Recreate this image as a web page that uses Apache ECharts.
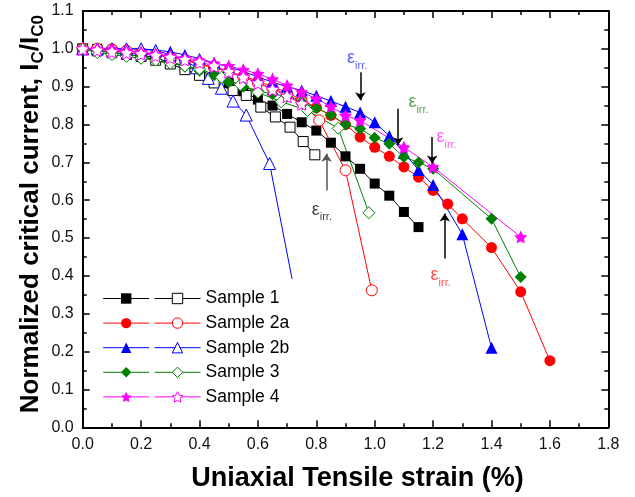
<!DOCTYPE html>
<html>
<head>
<meta charset="utf-8">
<script src="https://cdn.jsdelivr.net/npm/echarts@6/dist/echarts.min.js"></script>
<style>
  html, body { margin: 0; padding: 0; background: #fff; }
  #chart { width: 635px; height: 497px; }
</style>
</head>
<body>
<div id="chart"></div>
<script>
// Normalized critical current Ic/Ic0 versus uniaxial tensile strain (%)
const sampleNames = ['Sample 1', 'Sample 2a', 'Sample 2b', 'Sample 3', 'Sample 4'];
const sampleColors = ['#000000', '#ff0000', '#0000ff', '#008000', '#ff00ff'];

const xTicks = [0, 0.2, 0.4, 0.6, 0.8, 1.0, 1.2, 1.4, 1.6, 1.8];
const yTicks = [0, 0.1, 0.2, 0.3, 0.4, 0.5, 0.6, 0.7, 0.8, 0.9, 1.0, 1.1];

// Sample 1
const s1FilledX = [0, 0.05, 0.1, 0.15, 0.2, 0.25, 0.3, 0.35, 0.4, 0.45, 0.5, 0.55, 0.6, 0.65, 0.7, 0.75, 0.8, 0.85, 0.9, 0.95, 1.0, 1.05, 1.1, 1.15];
const s1FilledY = [1.0, 1.0, 0.995, 0.99, 0.985, 0.975, 0.965, 0.955, 0.94, 0.925, 0.91, 0.888, 0.866, 0.85, 0.828, 0.806, 0.784, 0.752, 0.716, 0.683, 0.644, 0.612, 0.569, 0.529];
const s1OpenX = [0, 0.05, 0.1, 0.15, 0.2, 0.25, 0.3, 0.35, 0.4, 0.45, 0.515, 0.56, 0.61, 0.66, 0.71, 0.755, 0.795];
const s1OpenY = [1.0, 0.995, 0.99, 0.985, 0.98, 0.97, 0.96, 0.945, 0.93, 0.91, 0.89, 0.877, 0.846, 0.82, 0.793, 0.755, 0.72];

// Sample 2a
const s2aFilledX = [0, 0.05, 0.1, 0.15, 0.2, 0.25, 0.3, 0.35, 0.4, 0.45, 0.5, 0.55, 0.6, 0.65, 0.7, 0.75, 0.8, 0.85, 0.9, 0.95, 1.0, 1.05, 1.1, 1.15, 1.2, 1.25, 1.3, 1.4, 1.5, 1.6];
const s2aFilledY = [1.0, 1.0, 1.0, 0.995, 0.99, 0.985, 0.978, 0.97, 0.96, 0.95, 0.94, 0.928, 0.915, 0.9, 0.885, 0.865, 0.845, 0.824, 0.80, 0.767, 0.74, 0.716, 0.688, 0.661, 0.626, 0.59, 0.551, 0.475, 0.358, 0.176];
const s2aOpenX = [0, 0.05, 0.1, 0.15, 0.2, 0.25, 0.3, 0.35, 0.4, 0.45, 0.5, 0.55, 0.6, 0.65, 0.7, 0.75, 0.81, 0.9, 0.99];
const s2aOpenY = [1.0, 1.0, 0.998, 0.995, 0.99, 0.985, 0.978, 0.97, 0.96, 0.95, 0.94, 0.925, 0.91, 0.895, 0.88, 0.86, 0.811, 0.679, 0.362];

// Sample 2b
const s2bFilledX = [0, 0.05, 0.1, 0.15, 0.2, 0.25, 0.3, 0.35, 0.4, 0.45, 0.5, 0.55, 0.6, 0.65, 0.7, 0.75, 0.8, 0.85, 0.9, 0.95, 1.0, 1.05, 1.1, 1.15, 1.2, 1.3, 1.4];
const s2bFilledY = [1.0, 1.0, 1.0, 1.0, 1.0, 0.997, 0.992, 0.984, 0.974, 0.963, 0.952, 0.94, 0.926, 0.912, 0.90, 0.89, 0.876, 0.862, 0.847, 0.832, 0.806, 0.77, 0.725, 0.68, 0.64, 0.51, 0.21];
const s2bOpenX = [0, 0.05, 0.1, 0.15, 0.2, 0.25, 0.3, 0.35, 0.39, 0.43, 0.475, 0.515, 0.56, 0.64, 0.717];
const s2bOpenY = [1.0, 1.0, 1.0, 1.0, 1.0, 0.995, 0.985, 0.97, 0.95, 0.922, 0.896, 0.862, 0.825, 0.697, 0.392];

// Sample 3
const s3FilledX = [0, 0.05, 0.1, 0.15, 0.2, 0.25, 0.3, 0.35, 0.4, 0.45, 0.5, 0.55, 0.6, 0.65, 0.7, 0.75, 0.8, 0.85, 0.9, 0.95, 1.0, 1.05, 1.1, 1.15, 1.2, 1.4, 1.5];
const s3FilledY = [1.0, 0.995, 0.99, 0.985, 0.98, 0.972, 0.963, 0.953, 0.942, 0.93, 0.912, 0.9, 0.89, 0.88, 0.875, 0.86, 0.843, 0.826, 0.80, 0.789, 0.765, 0.749, 0.714, 0.70, 0.683, 0.551, 0.397];
const s3OpenX = [0, 0.05, 0.1, 0.15, 0.2, 0.25, 0.3, 0.35, 0.4, 0.475, 0.54, 0.6, 0.68, 0.77, 0.875, 0.98];
const s3OpenY = [1.0, 0.99, 0.985, 0.98, 0.975, 0.97, 0.962, 0.955, 0.947, 0.925, 0.905, 0.885, 0.86, 0.837, 0.79, 0.567];

// Sample 4
const s4FilledX = [0, 0.05, 0.1, 0.15, 0.2, 0.25, 0.3, 0.35, 0.4, 0.45, 0.5, 0.55, 0.6, 0.65, 0.7, 0.75, 0.8, 0.85, 0.9, 0.95, 1.1, 1.2, 1.5];
const s4FilledY = [1.0, 1.0, 1.0, 0.996, 0.992, 0.987, 0.982, 0.976, 0.97, 0.962, 0.955, 0.945, 0.934, 0.92, 0.903, 0.886, 0.868, 0.848, 0.824, 0.811, 0.74, 0.688, 0.503];
const s4OpenX = [0, 0.05, 0.1, 0.15, 0.2, 0.25, 0.3, 0.35, 0.4, 0.45, 0.5, 0.55, 0.6, 0.65, 0.7, 0.75];
const s4OpenY = [1.0, 0.997, 0.993, 0.99, 0.987, 0.983, 0.978, 0.972, 0.965, 0.955, 0.94, 0.925, 0.91, 0.893, 0.875, 0.855];

// Irreversible-strain markers: arrow strain, arrow tail/head Ic/Ic0, label position
const irrArrowX    = [0.835, 0.951, 1.08, 1.197, 1.24];
const irrArrowFrom = [0.626, 0.938, 0.842, 0.767, 0.446];
const irrArrowTo   = [0.723, 0.864, 0.745, 0.697, 0.565];
const irrLabelX    = [0.819, 0.940, 1.150, 1.246, 1.226];
const irrLabelY    = [0.569, 0.970, 0.854, 0.761, 0.397];
const irrLabelColors = ['#111111', '#3333ff', '#2a8a2a', '#ff33ff', '#ff2222'];
const irrArrowColors = ['#555555', '#000000', '#000000', '#000000', '#000000'];

const FONT = '"Liberation Sans", Arial, Helvetica, sans-serif';
const STAR = 'path://M0,-10L2.94,-4.05L9.51,-3.09L4.76,1.55L5.88,8.09L0,5.2L-5.88,8.09L-4.76,1.55L-9.51,-3.09L-2.94,-4.05Z';
const symbols = ['rect', 'circle', 'triangle', 'diamond', STAR];
const symbolSizes = [10, 11, 12, 12, 13];

function pairs(xs, ys) {
  return xs.map((x, i) => [x, ys[i]]);
}

function makeSeries(idx, xs, ys, open, hideLastSymbol) {
  const color = sampleColors[idx];
  const data = pairs(xs, ys);
  if (hideLastSymbol) {
    const last = data.length - 1;
    data[last] = { value: data[last], symbol: 'none' };
  }
  return {
    type: 'line',
    name: sampleNames[idx],
    xAxisIndex: 0,
    yAxisIndex: 0,
    data: data,
    symbol: symbols[idx],
    symbolSize: symbolSizes[idx],
    showSymbol: true,
    showAllSymbol: true,
    lineStyle: { color: color, width: 1 },
    itemStyle: open
      ? { color: '#ffffff', borderColor: color, borderWidth: 1 }
      : { color: color, borderColor: color, borderWidth: 0 },
    emphasis: { disabled: true },
    silent: true,
    animation: false
  };
}

const series = [
  makeSeries(0, s1FilledX, s1FilledY, false),
  makeSeries(0, s1OpenX, s1OpenY, true),
  makeSeries(1, s2aFilledX, s2aFilledY, false),
  makeSeries(1, s2aOpenX, s2aOpenY, true),
  makeSeries(2, s2bFilledX, s2bFilledY, false),
  makeSeries(2, s2bOpenX, s2bOpenY, true, true),
  makeSeries(3, s3FilledX, s3FilledY, false),
  makeSeries(3, s3OpenX, s3OpenY, true),
  makeSeries(4, s4FilledX, s4FilledY, false),
  makeSeries(4, s4OpenX, s4OpenY, true)
];

// ε_irr labels with their arrows
series.push({
  type: 'scatter',
  name: 'irr',
  xAxisIndex: 0,
  yAxisIndex: 0,
  symbol: 'circle',
  symbolSize: 1,
  itemStyle: { color: 'rgba(0,0,0,0)' },
  silent: true,
  animation: false,
  z: 5,
  data: irrLabelX.map((x, i) => ({
    value: [x, irrLabelY[i]],
    label: {
      show: true,
      position: 'inside',
      formatter: '{e|\u03b5}{s|irr.}',
      rich: {
        e: { fontFamily: FONT, fontSize: 18, color: irrLabelColors[i], lineHeight: 22, verticalAlign: 'top' },
        s: { fontFamily: FONT, fontSize: 11, color: irrLabelColors[i], verticalAlign: 'bottom' }
      }
    }
  })),
  markLine: {
    silent: true,
    animation: false,
    symbol: ['none', 'arrow'],
    symbolSize: 8,
    label: { show: false },
    emphasis: { disabled: true },
    data: irrArrowX.map((x, i) => [
      { coord: [x, irrArrowFrom[i]], lineStyle: { color: irrArrowColors[i], width: 1.5, type: 'solid' } },
      { coord: [x, irrArrowTo[i]] }
    ])
  }
});

const axisLineStyle = { color: '#000', width: 2 };
const tickStyle = { color: '#000', width: 1.5 };

function baseAxis(extra) {
  return Object.assign({
    type: 'value',
    axisLine: { show: true, onZero: false, lineStyle: axisLineStyle },
    axisTick: { show: true, inside: true, length: 7, lineStyle: tickStyle },
    minorTick: { show: true, splitNumber: 2, length: 4, lineStyle: tickStyle },
    splitLine: { show: false },
    minorSplitLine: { show: false },
    nameMoveOverlap: false
  }, extra);
}

const labelStyle = {
  fontFamily: FONT,
  fontSize: 16,
  color: '#111',
  formatter: v => v.toFixed(1)
};

const option = {
  animation: false,
  backgroundColor: '#ffffff',
  grid: {
    left: 82.7, right: 26.7, top: 11, bottom: 69.7,
    containLabel: false,
    outerBoundsMode: 'none'
  },
  xAxis: [
    baseAxis({
      min: xTicks[0], max: xTicks[xTicks.length - 1], interval: 0.2,
      position: 'bottom',
      axisLabel: Object.assign({ margin: 9 }, labelStyle),
      name: 'Uniaxial Tensile strain (%)',
      nameLocation: 'middle',
      nameGap: 38,
      nameTextStyle: {
        fontFamily: FONT, fontSize: 27, fontWeight: 'bold', color: '#000',
        padding: [0, 0, 0, 24]
      }
    }),
    baseAxis({
      min: xTicks[0], max: xTicks[xTicks.length - 1], interval: 0.2,
      position: 'top',
      axisLabel: { show: false }
    })
  ],
  yAxis: [
    baseAxis({
      min: yTicks[0], max: yTicks[yTicks.length - 1], interval: 0.1,
      position: 'left',
      axisLabel: Object.assign({ margin: 9 }, labelStyle),
      name: '{m|Normalized critical current, I}{s|C}{m|/I}{s|C0}',
      nameLocation: 'middle',
      nameRotate: 90,
      nameGap: 36,
      nameTextStyle: {
        fontFamily: FONT, fontWeight: 'bold', color: '#000',
        padding: [0, 0, 0, 10],
        rich: {
          m: { fontFamily: FONT, fontSize: 26, fontWeight: 'bold', color: '#000', lineHeight: 32 },
          s: { fontFamily: FONT, fontSize: 17, fontWeight: 'bold', color: '#000', verticalAlign: 'bottom' }
        }
      }
    }),
    baseAxis({
      min: yTicks[0], max: yTicks[yTicks.length - 1], interval: 0.1,
      position: 'right',
      axisLabel: { show: false }
    })
  ],
  legend: [
    {
      orient: 'vertical',
      left: 102.7,
      top: 288.5,
      padding: 0,
      itemWidth: 46,
      itemHeight: 13,
      itemGap: 4.6,
      selectedMode: false,
      textStyle: { fontFamily: FONT, fontSize: 17.5, lineHeight: 20, color: 'rgba(0,0,0,0)' },
      data: sampleNames.map((n, i) => ({
        name: n,
        itemStyle: { color: sampleColors[i], borderColor: sampleColors[i], borderWidth: 0 },
        lineStyle: { color: sampleColors[i], width: 1 }
      }))
    },
    {
      orient: 'vertical',
      left: 154,
      top: 288.5,
      padding: 0,
      itemWidth: 46,
      itemHeight: 13,
      itemGap: 4.6,
      selectedMode: false,
      textStyle: { fontFamily: FONT, fontSize: 17.5, lineHeight: 20, color: '#000' },
      data: sampleNames.map((n, i) => ({
        name: n,
        itemStyle: { color: '#ffffff', borderColor: sampleColors[i], borderWidth: 1 },
        lineStyle: { color: sampleColors[i], width: 1 }
      }))
    }
  ],
  series: series
};

const chart = echarts.init(document.getElementById('chart'), null, { renderer: 'canvas' });
chart.setOption(option);
</script>
</body>
</html>
